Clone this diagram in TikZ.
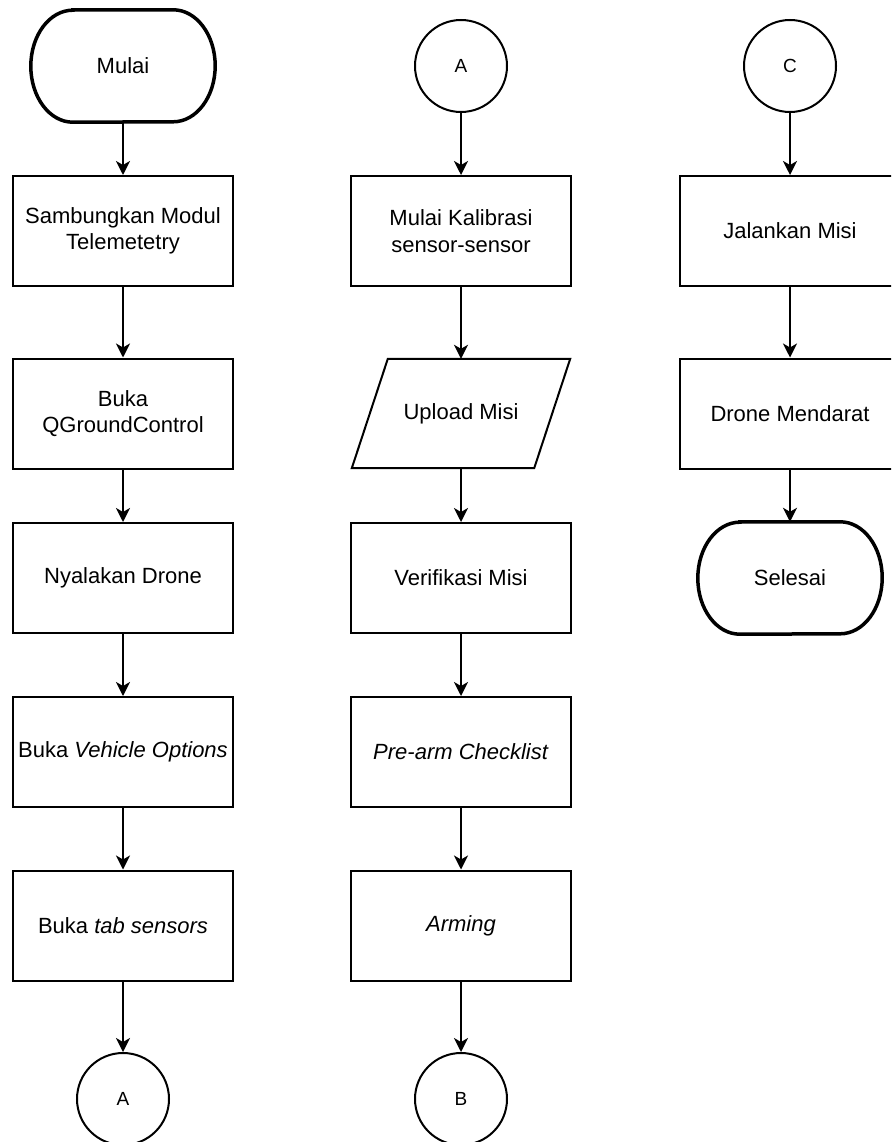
\documentclass[tikz,border=0pt]{standalone}
\usepackage{fontspec}
\setmainfont{Liberation Sans}
\usetikzlibrary{arrows.meta}

\begin{document}
\begin{tikzpicture}[x=1pt,y=-1pt,font=\fontsize{22}{26.5}\selectfont,
    proc/.style={rectangle,draw,line width=2pt,minimum width=220pt,minimum height=110pt,inner sep=2pt,align=center},
    conn/.style={circle,draw,line width=2pt,minimum size=92pt,inner sep=0pt,font=\fontsize{19}{22}\selectfont},
    term/.style={rectangle,minimum width=184pt,minimum height=112pt,inner sep=0pt},
    io/.style={rectangle,minimum width=218pt,minimum height=109pt,inner sep=0pt,align=center},
    arr/.style={line width=2pt,-{Stealth[length=14pt,width=14pt,inset=4pt]}}]

  \clip (0,0) rectangle (891,1142);

  % column 1
  \node[term] (mulai)   at (123,66)    {Mulai};
  \node[proc] (tele)    at (123,231)   {Sambungkan Modul\\Telemetetry};
  \node[proc] (qgc)     at (123,413.5) {Buka\\QGroundControl};
  \node[proc] (nyala)   at (123,578)   {Nyalakan Drone};
  \node[proc] (vehicle) at (123,752)   {Buka \textit{Vehicle Options}};
  \node[proc] (tab)     at (123,925.5) {Buka \textit{tab sensors}};
  \node[conn] (aout)    at (123,1099)  {A};

  % column 2
  \node[conn] (ain)     at (461,66)    {A};
  \node[proc] (kalib)   at (461,231)   {Mulai Kalibrasi\\sensor-sensor};
  \node[io]   (upload)  at (461,413.5) {Upload Misi};
  \node[proc] (verif)   at (461,578)   {Verifikasi Misi};
  \node[proc] (prearm)  at (461,752)   {\textit{Pre-arm Checklist}};
  \node[proc] (arming)  at (461,925.5) {\textit{Arming}};
  \node[conn] (bout)    at (461,1099)  {B};

  % column 3
  \node[conn] (cin)     at (790,66)    {C};
  \node[proc] (jalan)   at (790,231)   {Jalankan Misi};
  \node[proc] (darat)   at (790,413.5) {Drone Mendarat};
  \node[term] (selesai) at (790,578)   {Selesai};

  % terminator outlines
  \foreach \t in {mulai,selesai}
    \draw[line width=3.5pt] ([xshift=42pt]\t.north west) -- ([xshift=-42pt]\t.north east)
      arc[start angle=90,end angle=-90,x radius=42pt,y radius=56pt]
      -- ([xshift=42pt]\t.south west)
      arc[start angle=270,end angle=90,x radius=42pt,y radius=56pt] -- cycle;

  % data shape
  \draw[line width=2pt] ([xshift=36pt]upload.north west) -- (upload.north east)
    -- ([xshift=-36pt]upload.south east) -- (upload.south west) -- cycle;

  \begin{scope}[every edge/.style={draw,arr}]
    \path (mulai)   edge (tele);
    \path (tele)    edge (qgc);
    \path (qgc)     edge (nyala);
    \path (nyala)   edge (vehicle);
    \path (vehicle) edge (tab);
    \path (tab)     edge (aout);
    \path (ain)     edge (kalib);
    \path (kalib)   edge (upload);
    \path (upload)  edge (verif);
    \path (verif)   edge (prearm);
    \path (prearm)  edge (arming);
    \path (arming)  edge (bout);
    \path (cin)     edge (jalan);
    \path (jalan)   edge (darat);
    \path (darat)   edge (selesai);
  \end{scope}

\end{tikzpicture}
\end{document}
